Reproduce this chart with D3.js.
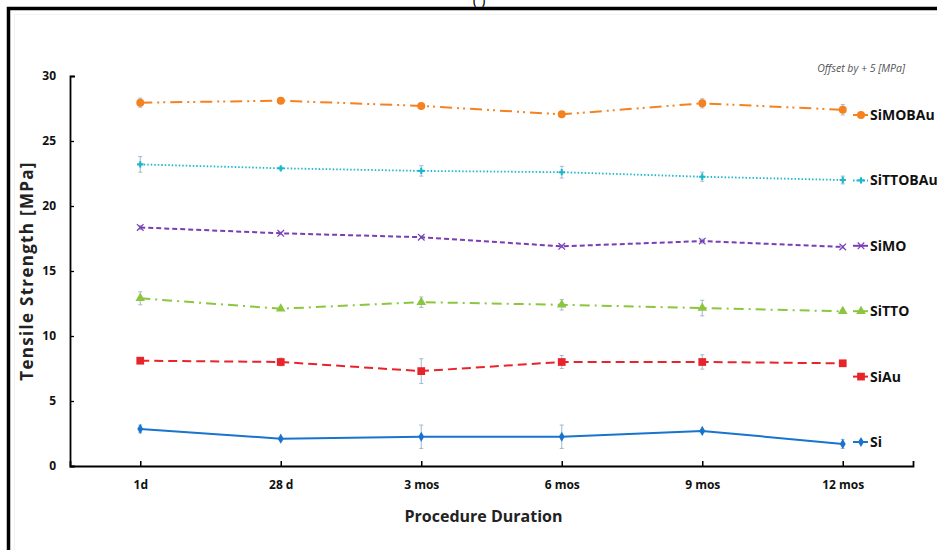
<!DOCTYPE html>
<html>
<head>
<meta charset="utf-8">
<script src="https://cdn.jsdelivr.net/npm/d3@7"></script>
<style>
  body { margin: 0; background: #fff; }
  svg { display: block; font-family: "Open Sans", "Noto Sans", sans-serif; }
</style>
</head>
<body>
<svg id="drawing_region"></svg>
<script>
// categories on the x axis
const durations = ["1d", "28 d", "3 mos", "6 mos", "9 mos", "12 mos"];
// series, bottom to top
const seriesNames = ["Si", "SiAu", "SiTTO", "SiMO", "SiTTOBAu", "SiMOBAu"];
const siValues        = [2.85, 2.1, 2.25, 2.25, 2.7, 1.7];
const siErr           = [0.3, 0.1, 0.9, 0.9, 0.1, 0.35];
const siAuValues      = [8.1, 8.0, 7.3, 8.0, 8.0, 7.9];
const siAuErr         = [0.1, 0.3, 0.95, 0.5, 0.55, 0.1];
const siTTOValues     = [12.9, 12.1, 12.6, 12.4, 12.15, 11.9];
const siTTOErr        = [0.5, 0.1, 0.4, 0.4, 0.6, 0.15];
const siMOValues      = [18.35, 17.9, 17.6, 16.9, 17.3, 16.85];
const siMOErr         = [0.15, 0.1, 0.1, 0.1, 0.15, 0.1];
const siTTOBAuValues  = [23.2, 22.9, 22.7, 22.6, 22.25, 22.0];
const siTTOBAuErr     = [0.6, 0.1, 0.4, 0.45, 0.35, 0.3];
const siMOBAuValues   = [27.95, 28.1, 27.7, 27.05, 27.9, 27.4];
const siMOBAuErr      = [0.35, 0.1, 0.1, 0.1, 0.35, 0.4];
const yTicks = [0, 5, 10, 15, 20, 25, 30];

const series = [
  { name: "Si",       values: siValues,       err: siErr,       color: "#1874cd", dash: null,            marker: "diamond" },
  { name: "SiAu",     values: siAuValues,     err: siAuErr,     color: "#e8242a", dash: "9,5",           marker: "square" },
  { name: "SiTTO",    values: siTTOValues,    err: siTTOErr,    color: "#8cc63e", dash: "10,5,2,5",      marker: "triangle" },
  { name: "SiMO",     values: siMOValues,     err: siMOErr,     color: "#7a3db8", dash: "5,3",           marker: "cross" },
  { name: "SiTTOBAu", values: siTTOBAuValues, err: siTTOBAuErr, color: "#19b8cc", dash: "1.5,2",         marker: "plus" },
  { name: "SiMOBAu",  values: siMOBAuValues,  err: siMOBAuErr,  color: "#f5821f", dash: "12,5,2,4,2,5",  marker: "circle" }
];

const width = 937, height = 550;
const margin = {top: 76, right: 24, bottom: 84, left: 70};

const svg = d3.select("#drawing_region")
  .attr("width", width)
  .attr("height", height);

// frame
svg.append("path")
  .attr("d", `M8.5,${height} V8.5 H${width}`)
  .attr("fill", "none").attr("stroke", "#000").attr("stroke-width", 3.5);
svg.append("path")
  .attr("d", `M14.5,${height} V14.5 H${width}`)
  .attr("fill", "none").attr("stroke", "#f2f2f2").attr("stroke-width", 1);
// panel letter, mostly cut by the top edge as in the source
svg.append("text")
  .attr("x", 479).attr("y", 5)
  .attr("text-anchor", "middle")
  .attr("font-size", 15)
  .text("( )");

const innerW = width - margin.left - margin.right;
const innerH = height - margin.top - margin.bottom;

const chart = svg.append("g")
  .attr("transform", `translate(${margin.left},${margin.top})`);

const x = d3.scalePoint()
  .domain(durations)
  .range([0, innerW])
  .padding(0.5);

const y = d3.scaleLinear()
  .domain([0, 30])
  .range([innerH, 0]);

// axes
const xAxis = d3.axisBottom(x).tickSize(-5).tickSizeOuter(-5).tickPadding(14);
const xg = chart.append("g")
  .attr("transform", `translate(0,${innerH})`)
  .call(xAxis);
xg.select(".domain").attr("stroke-width", 1.8);
xg.selectAll(".tick line").attr("stroke-width", 1.5);
xg.selectAll("text")
  .attr("font-size", 12).attr("font-weight", "bold")
  .attr("font-family", "'Open Sans', sans-serif")
  .attr("fill", "#111");

const yAxis = d3.axisLeft(y).tickValues(yTicks).tickSize(-4).tickSizeOuter(-5).tickPadding(14);
const yg = chart.append("g").call(yAxis);
yg.select(".domain").attr("stroke-width", 1.8);
yg.selectAll(".tick line").attr("stroke-width", 1.3);
yg.selectAll("text")
  .attr("font-size", 12).attr("font-weight", "bold")
  .attr("font-family", "'Open Sans', sans-serif")
  .attr("fill", "#111");

// axis titles
svg.append("text")
  .attr("x", margin.left + innerW / 2 - 8)
  .attr("y", 522)
  .attr("text-anchor", "middle")
  .attr("font-size", 16).attr("font-weight", "bold")
  .attr("fill", "#222")
  .text("Procedure Duration");

svg.append("text")
  .attr("transform", `translate(33,${margin.top + innerH / 2}) rotate(-90)`)
  .attr("text-anchor", "middle")
  .attr("font-size", 17).attr("font-weight", "bold")
  .attr("letter-spacing", 1.3)
  .attr("fill", "#222")
  .text("Tensile Strength [MPa]");

svg.append("text")
  .attr("x", 905).attr("y", 72)
  .attr("text-anchor", "end")
  .attr("font-size", 10.5).attr("font-style", "italic")
  .attr("fill", "#555")
  .text("Offset  by  + 5 [MPa]");

const symbolOf = {
  diamond: d3.symbolDiamond,
  square: d3.symbolSquare,
  triangle: d3.symbolTriangle,
  cross: d3.symbolX,
  plus: d3.symbolCross,
  circle: d3.symbolCircle
};
const sizeOf = { diamond: 30, square: 60, triangle: 40, cross: 30, plus: 22, circle: 50 };

function drawMarker(g, s, cx, cy) {
  const p = g.append("path")
    .attr("transform", `translate(${cx},${cy})`)
    .attr("d", d3.symbol().type(symbolOf[s.marker]).size(sizeOf[s.marker])());
  if (s.marker === "cross") {
    p.attr("fill", "none").attr("stroke", s.color).attr("stroke-width", 1.2);
  } else {
    p.attr("fill", s.color);
  }
}

const line = d3.line()
  .x((d, i) => x(durations[i]))
  .y(d => y(d));

series.forEach(s => {
  const g = chart.append("g");
  g.append("path")
    .datum(s.values)
    .attr("d", line)
    .attr("fill", "none")
    .attr("stroke", s.color)
    .attr("stroke-width", s.marker === "plus" ? 1.8 : 2)
    .attr("stroke-dasharray", s.dash);

  // error bars
  s.values.forEach((v, i) => {
    const cx = x(durations[i]);
    const e = s.err[i];
    const eg = g.append("g")
      .attr("stroke", "#7f9fc0").attr("stroke-width", 0.9).attr("opacity", 0.8);
    eg.append("line").attr("x1", cx).attr("x2", cx).attr("y1", y(v - e)).attr("y2", y(v + e));
    eg.append("line").attr("x1", cx - 2).attr("x2", cx + 2).attr("y1", y(v - e)).attr("y2", y(v - e));
    eg.append("line").attr("x1", cx - 2).attr("x2", cx + 2).attr("y1", y(v + e)).attr("y2", y(v + e));
  });

  s.values.forEach((v, i) => drawMarker(g, s, x(durations[i]), y(v)));
});

// legend, top entry first
const legend = svg.append("g");
const legendOrder = series.slice().reverse();
legendOrder.forEach((s, i) => {
  const ly = 115 + i * 65.4;
  const lg = legend.append("g");
  lg.append("line")
    .attr("x1", 853).attr("x2", 868).attr("y1", ly).attr("y2", ly)
    .attr("stroke", s.color).attr("stroke-width", 2)
    .attr("stroke-dasharray", s.marker === "plus" ? "1.5,2" : null);
  drawMarker(lg, s, 861, ly);
  lg.append("text")
    .attr("x", 870).attr("y", ly + 5)
    .attr("font-size", 14).attr("font-weight", "bold")
    .attr("fill", "#111")
    .text(s.name);
});
</script>
</body>
</html>
